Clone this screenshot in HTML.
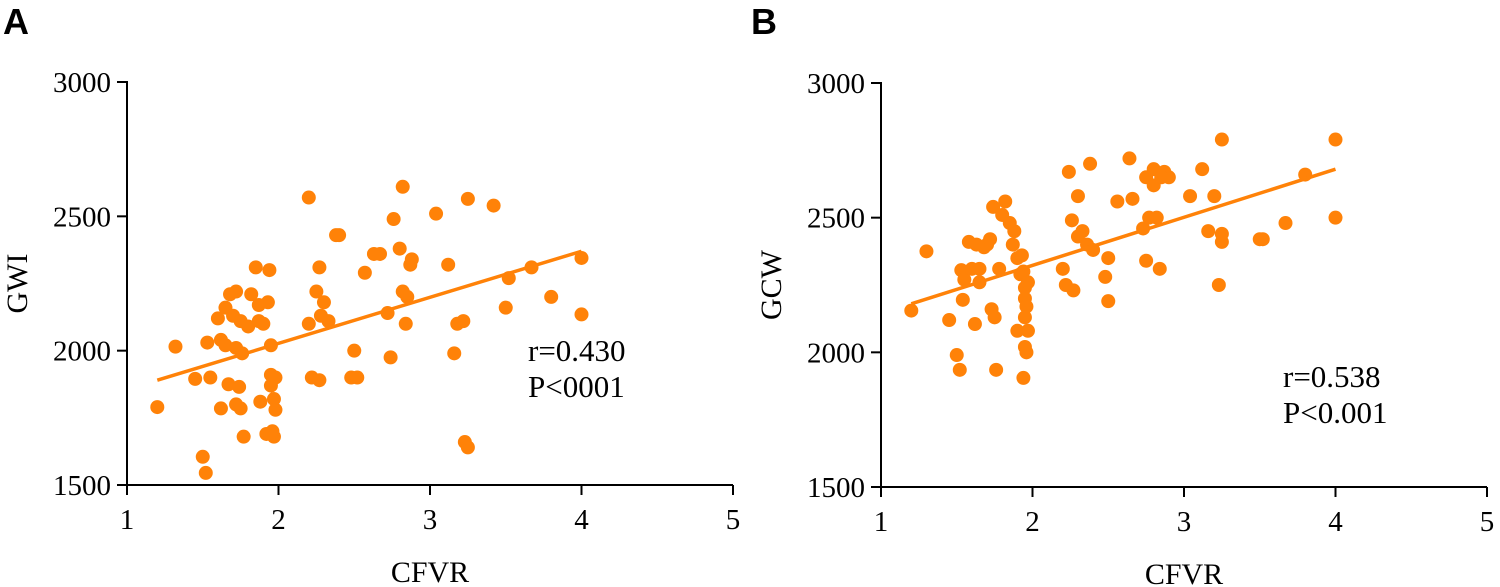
<!DOCTYPE html>
<html><head><meta charset="utf-8"><style>
body{margin:0;background:#fff;width:1500px;height:587px;overflow:hidden}
svg{display:block}
text{font-family:"Liberation Serif",serif;fill:#000}
</style></head><body>
<svg id="c" width="1500" height="587"></svg>
<script>
const xTicks=[1,2,3,4,5];
const yTicks=[1500,2000,2500,3000];
const aX=[1.2,1.32,1.45,1.5,1.52,1.53,1.55,1.6,1.62,1.62,1.65,1.65,1.67,1.68,1.7,1.72,1.72,1.72,1.74,1.75,1.75,1.76,1.77,1.8,1.82,1.85,1.87,1.87,1.88,1.9,1.92,1.93,1.94,1.95,1.95,1.95,1.96,1.97,1.97,1.98,1.98,2.2,2.2,2.22,2.25,2.27,2.27,2.28,2.3,2.33,2.38,2.4,2.48,2.5,2.52,2.57,2.63,2.67,2.72,2.74,2.76,2.8,2.82,2.82,2.84,2.85,2.87,2.88,3.04,3.12,3.16,3.18,3.22,3.23,3.25,3.25,3.42,3.5,3.52,3.67,3.8,4.0,4.0];
const aY=[1790,2015,1895,1605,1545,2030,1900,2120,2040,1785,2160,2020,1875,2210,2130,2220,2010,1800,1865,2110,1785,1990,1680,2090,2210,2310,2170,2110,1810,2100,1690,2180,2300,2020,1910,1870,1700,1680,1820,1900,1780,2570,2100,1900,2220,2310,1890,2130,2180,2110,2430,2430,1900,2000,1900,2290,2360,2360,2140,1975,2490,2380,2220,2610,2100,2200,2320,2340,2510,2320,1990,2100,2110,1660,1640,2565,2540,2160,2270,2310,2200,2345,2135];
const aFitX=[1.2,4.0];
const aFitY=[1890,2370];
const bX=[1.2,1.3,1.45,1.5,1.52,1.53,1.54,1.55,1.58,1.6,1.62,1.63,1.65,1.65,1.68,1.7,1.72,1.73,1.74,1.75,1.76,1.78,1.8,1.82,1.85,1.87,1.88,1.9,1.9,1.92,1.93,1.94,1.95,1.95,1.95,1.96,1.95,1.96,1.94,1.97,1.97,2.2,2.22,2.24,2.26,2.27,2.3,2.3,2.33,2.36,2.38,2.4,2.48,2.5,2.5,2.56,2.64,2.66,2.73,2.75,2.75,2.77,2.8,2.8,2.82,2.84,2.87,2.9,2.85,3.04,3.12,3.16,3.2,3.23,3.25,3.25,3.25,3.5,3.52,3.67,3.8,4.0,4.0];
const bY=[2155,2375,2120,1990,1935,2305,2195,2270,2410,2310,2105,2400,2310,2260,2390,2400,2420,2160,2540,2130,1935,2310,2510,2560,2480,2400,2450,2350,2080,2290,2360,2300,2200,2240,2130,2170,2020,2000,1905,2260,2080,2310,2250,2670,2490,2230,2430,2580,2450,2400,2700,2380,2280,2190,2350,2560,2720,2570,2460,2340,2650,2500,2620,2680,2500,2310,2670,2650,2650,2580,2680,2450,2580,2250,2410,2790,2440,2420,2420,2480,2660,2790,2500];
const bFitX=[1.2,4.0];
const bFitY=[2180,2680];
const NS="http://www.w3.org/2000/svg";
const svg=document.getElementById('c');
function mk(t,a,p){const e=document.createElementNS(NS,t);for(const k in a)e.setAttribute(k,a[k]);(p||svg).appendChild(e);return e;}
function panel(cfg){
  const g=mk('g',{});
  
  
  const sx=v=>cfg.x0+(v-1)*(cfg.x1-cfg.x0)/4;
  const sy=v=>cfg.y0-(v-1500)*(cfg.y0-cfg.y1)/1500;
  const ax=mk('path',{d:`M${cfg.x0},${cfg.y1-1}V${cfg.y0}H${cfg.x1}`,stroke:'#000','stroke-width':2,fill:'none'},g);
  
  
  xTicks.forEach(t=>{
    mk('line',{x1:sx(t),x2:sx(t),y1:cfg.y0,y2:cfg.y0+10,stroke:'#000','stroke-width':2},g);
    const tx=mk('text',{x:sx(t),y:cfg.y0+44,'font-size':29,'text-anchor':'middle'},g);
    tx.textContent=t;
    
    
  });
  yTicks.forEach(t=>{
    mk('line',{x1:cfg.x0-10,x2:cfg.x0,y1:sy(t),y2:sy(t),stroke:'#000','stroke-width':2},g);
    const tx=mk('text',{x:cfg.x0-16,y:sy(t)+10,'font-size':29,'text-anchor':'end'},g);
    tx.textContent=t;
    
    
  });
  cfg.xs.forEach((v,i)=>{
    const c=mk('circle',{cx:sx(v),cy:sy(cfg.ys[i]),r:7,fill:'#ff8208'},g);
    
    
  });
  const l=mk('line',{x1:sx(cfg.fx[0]),y1:sy(cfg.fy[0]),x2:sx(cfg.fx[1]),y2:sy(cfg.fy[1]),stroke:'#ff8208','stroke-width':3.5},g);
  
  
  const xt=mk('text',{x:(cfg.x0+cfg.x1)/2,y:cfg.y0+97,'font-size':30,'text-anchor':'middle'},g);
  xt.textContent='CFVR';
  
  
  const yt=mk('text',{x:0,y:0,'font-size':30,'text-anchor':'middle',transform:`translate(${cfg.x0-100},${(cfg.y0+cfg.y1)/2}) rotate(-90)`},g);
  yt.textContent=cfg.ylab;
  
  
  cfg.ann.forEach((s,i)=>{
    const t=mk('text',{x:cfg.ax,y:cfg.ay+i*36,'font-size':31},g);
    t.textContent=s;
    
    
  });
  const L=mk('text',{x:cfg.lx,y:34,'font-size':36,'font-weight':'bold',style:'font-family:"Liberation Sans",sans-serif'},g);
  L.textContent=cfg.letter;
  
  
}
panel({name:'panel-a',x0:127,x1:733,y0:485,y1:82,xs:aX,ys:aY,fx:aFitX,fy:aFitY,ylab:'GWI',ann:['r=0.430','P<0001'],ax:528,ay:361,letter:'A',lx:3});
panel({name:'panel-b',x0:881,x1:1487,y0:487,y1:83,xs:bX,ys:bY,fx:bFitX,fy:bFitY,ylab:'GCW',ann:['r=0.538','P<0.001'],ax:1283,ay:387,letter:'B',lx:751});
</script>
</body></html>
